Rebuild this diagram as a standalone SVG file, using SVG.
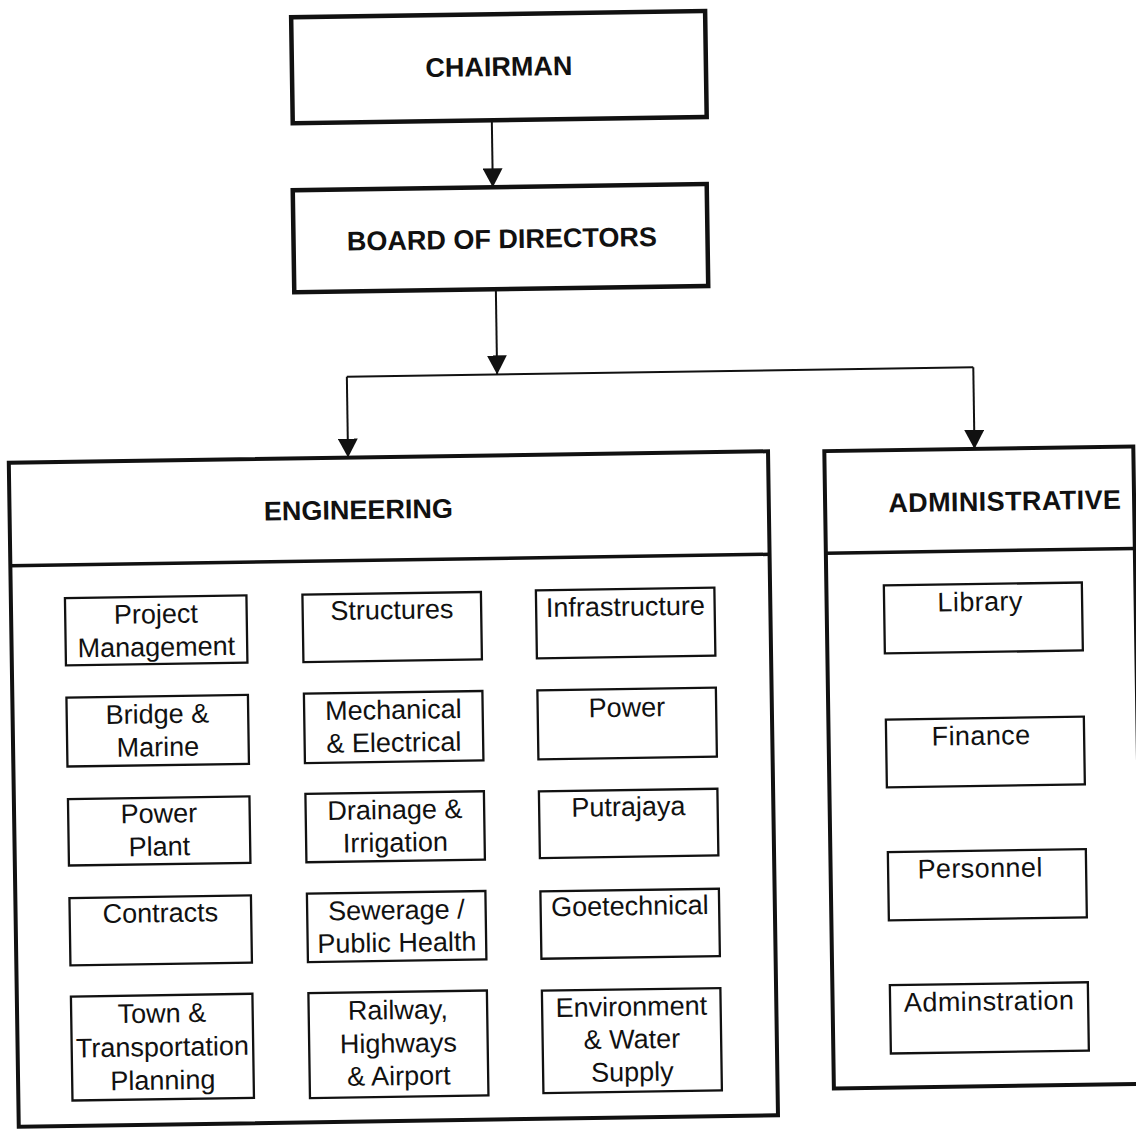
<svg xmlns="http://www.w3.org/2000/svg" width="1136" height="1131" viewBox="0 0 1136 1131">
<defs>
<style>
.t{font-family:"Liberation Sans",Arial,sans-serif;font-size:27px;text-anchor:middle;fill:#111}
.h{font-weight:bold}
.ad{letter-spacing:0.4px}
.top{fill:#fff;stroke:#111;stroke-width:4.5}
.grp{fill:#fff;stroke:#111;stroke-width:4}
.div{fill:none;stroke:#111;stroke-width:3.5}
.sub{fill:#fff;stroke:#111;stroke-width:2.3}
.con{fill:none;stroke:#111;stroke-width:2}
</style>
<marker id="ah" viewBox="0 0 19 20" refX="19" refY="10" markerWidth="19" markerHeight="20" markerUnits="userSpaceOnUse" orient="auto">
<path d="M0,0 L19,10 L0,20 Z" fill="#111"/>
</marker>
</defs>
<rect width="1136" height="1131" fill="#fff"/>
<g transform="rotate(-0.86 568 565)">
<g id="connectors">
<path class="con" d="M498.5,119.2 V186.2" marker-end="url(#ah)"/>
<path class="con" d="M500,288.2 V373.4" marker-end="url(#ah)"/>
<path class="con" d="M349.7,373.4 H976.2"/>
<path class="con" d="M349.7,373.4 V454.3" marker-end="url(#ah)"/>
<path class="con" d="M976.2,373.4 V455" marker-end="url(#ah)"/>
</g>
<g id="chairman">
<rect class="top" x="299.4" y="13.2" width="414" height="106"/>
<text class="t h" x="506.4" y="75">CHAIRMAN</text>
</g>
<g id="board">
<rect class="top" x="298.4" y="186.2" width="414" height="102"/>
<text class="t h" x="506.7" y="247.3">BOARD OF DIRECTORS</text>
</g>
<g id="engineering">
<rect class="grp" x="10.4" y="454.3" width="759.3" height="664.1"/>
<path class="div" d="M10.4,557.3 H769.7"/>
<text class="t h" x="359.2" y="515.9">ENGINEERING</text>
</g>
<g id="administrative">
<rect class="grp" x="826" y="455" width="309" height="637.5"/>
<path class="div" d="M826,557 H1135"/>
<text class="t h ad" x="1005.7" y="517">ADMINISTRATIVE</text>
</g>
<g id="project-management"><rect class="sub" x="64.5" y="590.5" width="181.5" height="67.3"/><text class="t" x="155.25" y="617">Project</text><text class="t" x="155.25" y="650">Management</text></g>
<g id="bridge-marine"><rect class="sub" x="64.5" y="690" width="181.5" height="69"/><text class="t" x="155.25" y="717">Bridge &amp;</text><text class="t" x="155.25" y="750">Marine</text></g>
<g id="power-plant"><rect class="sub" x="64.5" y="791.5" width="181.5" height="66.5"/><text class="t" x="155.25" y="816.5">Power</text><text class="t" x="155.25" y="849.5">Plant</text></g>
<g id="contracts"><rect class="sub" x="64.5" y="890.5" width="181.5" height="67.3"/><text class="t" x="155.25" y="916">Contracts</text></g>
<g id="town-planning"><rect class="sub" x="64.5" y="989" width="181.5" height="104"/><text class="t" x="155.25" y="1016.3">Town &amp;</text><text class="t" x="155.25" y="1050">Transportation</text><text class="t" x="155.25" y="1083.3">Planning</text></g>
<g id="structures"><rect class="sub" x="302" y="590.7" width="178.5" height="67.4"/><text class="t" x="391.25" y="616.4">Structures</text></g>
<g id="mechanical-electrical"><rect class="sub" x="302" y="689.7" width="178.5" height="69.4"/><text class="t" x="391.25" y="716.4">Mechanical</text><text class="t" x="391.25" y="749.1">&amp; Electrical</text></g>
<g id="drainage-irrigation"><rect class="sub" x="302" y="790" width="178.5" height="68.3"/><text class="t" x="391.25" y="816.3">Drainage &amp;</text><text class="t" x="391.25" y="849">Irrigation</text></g>
<g id="sewerage"><rect class="sub" x="302" y="889.7" width="178.5" height="68.4"/><text class="t" x="391.25" y="916.7">Sewerage /</text><text class="t" x="391.25" y="949.1">Public Health</text></g>
<g id="railway"><rect class="sub" x="302" y="989.2" width="178.5" height="105"/><text class="t" x="391.25" y="1016.5">Railway,</text><text class="t" x="391.25" y="1049.8">Highways</text><text class="t" x="391.25" y="1082.5">&amp; Airport</text></g>
<g id="infrastructure"><rect class="sub" x="535.5" y="589.9" width="178.5" height="68"/><text class="t" x="624.75" y="616.6">Infrastructure</text></g>
<g id="power"><rect class="sub" x="535.5" y="689.9" width="178.5" height="69"/><text class="t" x="624.75" y="717.6">Power</text></g>
<g id="putrajaya"><rect class="sub" x="535.5" y="791" width="178.5" height="66.7"/><text class="t" x="624.75" y="816.7">Putrajaya</text></g>
<g id="goetechnical"><rect class="sub" x="535.5" y="891" width="178.5" height="67.3"/><text class="t" x="624.75" y="916">Goetechnical</text></g>
<g id="environment"><rect class="sub" x="535.5" y="990.3" width="178.5" height="102.4"/><text class="t" x="624.75" y="1016.7">Environment</text><text class="t" x="624.75" y="1049.3">&amp; Water</text><text class="t" x="624.75" y="1082">Supply</text></g>
<g id="library"><rect class="sub" x="883.5" y="590.2" width="198" height="68"/><text class="t ad" x="979.5" y="617">Library</text></g>
<g id="finance"><rect class="sub" x="883.5" y="724.3" width="198" height="67.8"/><text class="t ad" x="978.5" y="751">Finance</text></g>
<g id="personnel"><rect class="sub" x="883.5" y="856.8" width="198" height="68.3"/><text class="t ad" x="975.5" y="883.6">Personnel</text></g>
<g id="adminstration"><rect class="sub" x="883.5" y="990" width="198" height="68.3"/><text class="t ad" x="982.5" y="1016.8">Adminstration</text></g>
</g>
</svg>
